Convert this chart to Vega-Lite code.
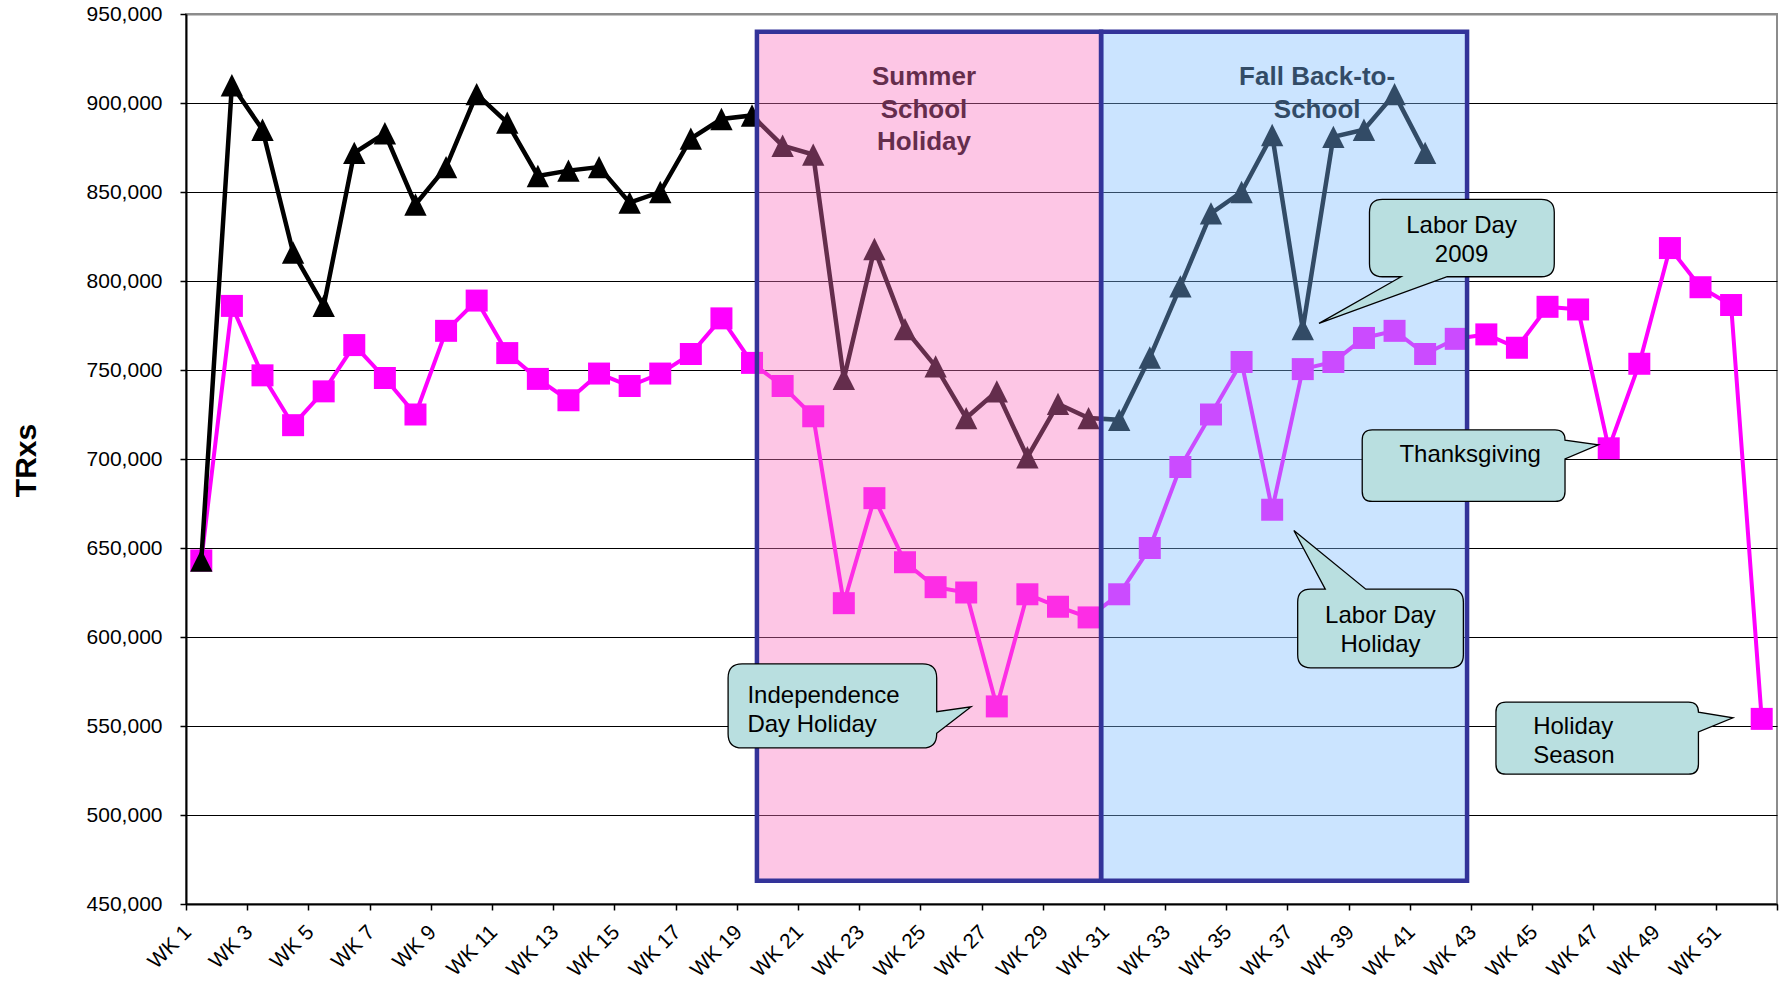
{
  "$schema": "https://vega.github.io/schema/vega-lite/v6.json",
  "width": 1591,
  "height": 890,
  "autosize": {"type": "none"},
  "padding": {"left": 186, "top": 14, "right": 6, "bottom": 81},
  "background": "white",
  "config": {"font": "Liberation Sans", "view": {"stroke": "#8c8c8c", "strokeWidth": 2}},
  "datasets": {
    "weekly": [
      {"week": 1, "series": "Series 1", "value": 643000},
      {"week": 2, "series": "Series 1", "value": 910000},
      {"week": 3, "series": "Series 1", "value": 885000},
      {"week": 4, "series": "Series 1", "value": 816000},
      {"week": 5, "series": "Series 1", "value": 786000},
      {"week": 6, "series": "Series 1", "value": 872000},
      {"week": 7, "series": "Series 1", "value": 883000},
      {"week": 8, "series": "Series 1", "value": 843000},
      {"week": 9, "series": "Series 1", "value": 864000},
      {"week": 10, "series": "Series 1", "value": 905000},
      {"week": 11, "series": "Series 1", "value": 889000},
      {"week": 12, "series": "Series 1", "value": 859000},
      {"week": 13, "series": "Series 1", "value": 862000},
      {"week": 14, "series": "Series 1", "value": 864000},
      {"week": 15, "series": "Series 1", "value": 844000},
      {"week": 16, "series": "Series 1", "value": 850000},
      {"week": 17, "series": "Series 1", "value": 880000},
      {"week": 18, "series": "Series 1", "value": 891000},
      {"week": 19, "series": "Series 1", "value": 893000},
      {"week": 20, "series": "Series 1", "value": 876000},
      {"week": 21, "series": "Series 1", "value": 871000},
      {"week": 22, "series": "Series 1", "value": 745000},
      {"week": 23, "series": "Series 1", "value": 818000},
      {"week": 24, "series": "Series 1", "value": 773000},
      {"week": 25, "series": "Series 1", "value": 752000},
      {"week": 26, "series": "Series 1", "value": 723000},
      {"week": 27, "series": "Series 1", "value": 738000},
      {"week": 28, "series": "Series 1", "value": 701000},
      {"week": 29, "series": "Series 1", "value": 731000},
      {"week": 30, "series": "Series 1", "value": 723000},
      {"week": 31, "series": "Series 1", "value": 722000},
      {"week": 32, "series": "Series 1", "value": 757000},
      {"week": 33, "series": "Series 1", "value": 797000},
      {"week": 34, "series": "Series 1", "value": 838000},
      {"week": 35, "series": "Series 1", "value": 850000},
      {"week": 36, "series": "Series 1", "value": 882000},
      {"week": 37, "series": "Series 1", "value": 773000},
      {"week": 38, "series": "Series 1", "value": 881000},
      {"week": 39, "series": "Series 1", "value": 885000},
      {"week": 40, "series": "Series 1", "value": 905000},
      {"week": 41, "series": "Series 1", "value": 872000},
      {"week": 1, "series": "Series 2", "value": 643000},
      {"week": 2, "series": "Series 2", "value": 786000},
      {"week": 3, "series": "Series 2", "value": 747000},
      {"week": 4, "series": "Series 2", "value": 719000},
      {"week": 5, "series": "Series 2", "value": 738000},
      {"week": 6, "series": "Series 2", "value": 764000},
      {"week": 7, "series": "Series 2", "value": 745500},
      {"week": 8, "series": "Series 2", "value": 725000},
      {"week": 9, "series": "Series 2", "value": 772000},
      {"week": 10, "series": "Series 2", "value": 789000},
      {"week": 11, "series": "Series 2", "value": 759500},
      {"week": 12, "series": "Series 2", "value": 745000},
      {"week": 13, "series": "Series 2", "value": 733000},
      {"week": 14, "series": "Series 2", "value": 748000},
      {"week": 15, "series": "Series 2", "value": 741000},
      {"week": 16, "series": "Series 2", "value": 748000},
      {"week": 17, "series": "Series 2", "value": 759000},
      {"week": 18, "series": "Series 2", "value": 779000},
      {"week": 19, "series": "Series 2", "value": 754000},
      {"week": 20, "series": "Series 2", "value": 741000},
      {"week": 21, "series": "Series 2", "value": 724000},
      {"week": 22, "series": "Series 2", "value": 619000},
      {"week": 23, "series": "Series 2", "value": 678000},
      {"week": 24, "series": "Series 2", "value": 642000},
      {"week": 25, "series": "Series 2", "value": 628000},
      {"week": 26, "series": "Series 2", "value": 625000},
      {"week": 27, "series": "Series 2", "value": 561000},
      {"week": 28, "series": "Series 2", "value": 624000},
      {"week": 29, "series": "Series 2", "value": 617000},
      {"week": 30, "series": "Series 2", "value": 611000},
      {"week": 31, "series": "Series 2", "value": 624000},
      {"week": 32, "series": "Series 2", "value": 650000},
      {"week": 33, "series": "Series 2", "value": 695500},
      {"week": 34, "series": "Series 2", "value": 725000},
      {"week": 35, "series": "Series 2", "value": 754500},
      {"week": 36, "series": "Series 2", "value": 671500},
      {"week": 37, "series": "Series 2", "value": 750500},
      {"week": 38, "series": "Series 2", "value": 754500},
      {"week": 39, "series": "Series 2", "value": 768000},
      {"week": 40, "series": "Series 2", "value": 772000},
      {"week": 41, "series": "Series 2", "value": 759000},
      {"week": 42, "series": "Series 2", "value": 767500},
      {"week": 43, "series": "Series 2", "value": 770000},
      {"week": 44, "series": "Series 2", "value": 762500},
      {"week": 45, "series": "Series 2", "value": 785500},
      {"week": 46, "series": "Series 2", "value": 784000},
      {"week": 47, "series": "Series 2", "value": 706000},
      {"week": 48, "series": "Series 2", "value": 753500},
      {"week": 49, "series": "Series 2", "value": 818500},
      {"week": 50, "series": "Series 2", "value": 796500},
      {"week": 51, "series": "Series 2", "value": 786500},
      {"week": 52, "series": "Series 2", "value": 554000}
    ],
    "periods": [
      {"period": "Summer School Holiday", "start": 19.16, "end": 30.41, "low": 463000, "high": 940000},
      {"period": "Fall Back-to-School", "start": 30.41, "end": 42.37, "low": 463000, "high": 940000}
    ],
    "periodLabels": [
      {"label": "Summer\nSchool\nHoliday", "week": 24.62, "value": 910100},
      {"label": "Fall Back-to-\nSchool", "week": 37.47, "value": 910100}
    ],
    "callouts": [
      {"note": "Independence Day Holiday", "week": 26.16, "value": 560800},
      {"note": "Labor Day 2009", "week": 37.53, "value": 776200},
      {"note": "Labor Day Holiday", "week": 36.71, "value": 659800},
      {"note": "Thanksgiving", "week": 46.66, "value": 708000},
      {"note": "Holiday Season", "week": 51.06, "value": 554600}
    ],
    "calloutText": [
      {"note": "Independence Day Holiday", "label": "Independence\nDay Holiday", "week": 18.85, "value": 562900},
      {"note": "Labor Day 2009", "label": "Labor Day\n2009", "week": 42.19, "value": 826800},
      {"note": "Labor Day Holiday", "label": "Labor Day\nHoliday", "week": 39.54, "value": 607800},
      {"note": "Thanksgiving", "label": "Thanksgiving", "week": 42.47, "value": 698500},
      {"note": "Holiday Season", "label": "Holiday\nSeason", "week": 44.53, "value": 545500}
    ]
  },
  "layer": [
    {
      "data": {"name": "weekly"},
      "transform": [{"filter": "datum.series == 'Series 2'"}],
      "mark": {"type": "line", "color": "#ff00ff", "strokeWidth": 4},
      "encoding": {
        "x": {
          "field": "week", "type": "quantitative",
          "scale": {"domain": [0.5, 52.5], "nice": false, "zero": false},
          "axis": {
            "values": [0.5,1.5,2.5,3.5,4.5,5.5,6.5,7.5,8.5,9.5,10.5,11.5,12.5,13.5,14.5,15.5,16.5,17.5,18.5,19.5,20.5,21.5,22.5,23.5,24.5,25.5,26.5,27.5,28.5,29.5,30.5,31.5,32.5,33.5,34.5,35.5,36.5,37.5,38.5,39.5,40.5,41.5,42.5,43.5,44.5,45.5,46.5,47.5,48.5,49.5,50.5,51.5,52.5],
            "labelExpr": "(datum.value - 0.5) % 2 == 0 && datum.value < 52 ? 'WK ' + (datum.value + 0.5) : ''",
            "labelAngle": -45, "labelAlign": "right", "labelBaseline": "top",
            "labelOffset": -6, "labelPadding": 11,
            "labelFontSize": 21, "labelColor": "black", "labelFont": "Liberation Sans",
            "labelOverlap": false, "labelFlush": false, "labelBound": false,
            "tickSize": 6, "tickColor": "black", "tickWidth": 1.5,
            "domainColor": "black", "domainWidth": 2,
            "grid": false, "title": null
          }
        },
        "y": {
          "field": "value", "type": "quantitative",
          "scale": {"domain": [450000, 950000], "nice": false, "zero": false},
          "axis": {
            "values": [450000,500000,550000,600000,650000,700000,750000,800000,850000,900000,950000],
            "format": ",d",
            "labelFontSize": 21, "labelColor": "black", "labelFont": "Liberation Sans", "labelPadding": 18,
            "tickSize": 6, "tickColor": "black", "tickWidth": 1.5,
            "domainColor": "black", "domainWidth": 2,
            "grid": true,
            "gridColor": {"condition": {"test": "datum.value >= 950000", "value": "#8c8c8c"}, "value": "black"},
            "gridWidth": {"condition": {"test": "datum.value >= 950000", "value": 2}, "value": 1},
            "title": "TRxs", "titleFontSize": 30, "titleFontWeight": "bold", "titleFont": "Liberation Sans", "titleColor": "black",
            "titleAngle": 270, "titleX": -160, "titleY": 446, "titleAlign": "center", "titleBaseline": "middle"
          }
        }
      }
    },
    {
      "data": {"name": "weekly"},
      "transform": [{"filter": "datum.series == 'Series 2'"}],
      "mark": {"type": "point", "shape": "square", "size": 484, "filled": true, "color": "#ff00ff", "opacity": 1},
      "encoding": {
        "x": {"field": "week", "type": "quantitative"},
        "y": {"field": "value", "type": "quantitative"}
      }
    },
    {
      "data": {"name": "weekly"},
      "transform": [{"filter": "datum.series == 'Series 1'"}],
      "mark": {"type": "line", "color": "black", "strokeWidth": 4.5},
      "encoding": {
        "x": {"field": "week", "type": "quantitative"},
        "y": {"field": "value", "type": "quantitative"}
      }
    },
    {
      "data": {"name": "weekly"},
      "transform": [{"filter": "datum.series == 'Series 1'"}],
      "mark": {"type": "point", "shape": "M0,-1L1,1L-1,1Z", "size": 500, "filled": true, "color": "black", "opacity": 1},
      "encoding": {
        "x": {"field": "week", "type": "quantitative"},
        "y": {"field": "value", "type": "quantitative"}
      }
    },
    {
      "data": {"name": "periodLabels"},
      "mark": {"type": "text", "font": "Liberation Sans", "fontSize": 26, "fontWeight": "bold", "color": "black", "align": "center", "baseline": "alphabetic", "lineBreak": "\n", "lineHeight": 32.5},
      "encoding": {
        "x": {"field": "week", "type": "quantitative"},
        "y": {"field": "value", "type": "quantitative"},
        "text": {"field": "label"}
      }
    },
    {
      "data": {"name": "periods"},
      "mark": {"type": "rect", "fillOpacity": 0.4, "stroke": "#333399", "strokeWidth": 4.5, "strokeOpacity": 1},
      "encoding": {
        "x": {"field": "start", "type": "quantitative"},
        "x2": {"field": "end"},
        "y": {"field": "low", "type": "quantitative"},
        "y2": {"field": "high"},
        "fill": {"field": "period", "type": "nominal", "scale": {"domain": ["Summer School Holiday", "Fall Back-to-School"], "range": ["#fa70bf", "#7ebcff"]}, "legend": null}
      }
    },
    {
      "data": {"name": "callouts"},
      "transform": [{"filter": "datum.note == 'Independence Day Holiday'"}],
      "mark": {"type": "point", "shape": "M-2.29,-0.429L-0.484,-0.429Q-0.344,-0.429,-0.344,-0.289L-0.344,0.049L0,0L-0.344,0.265L-0.344,0.271Q-0.344,0.411,-0.484,0.411L-2.29,0.411Q-2.43,0.411,-2.43,0.271L-2.43,-0.289Q-2.43,-0.429,-2.29,-0.429Z", "size": 40000, "filled": true, "fill": "#b9dfe0", "stroke": "black", "strokeWidth": 1.3, "opacity": 1, "fillOpacity": 1},
      "encoding": {
        "x": {"field": "week", "type": "quantitative"},
        "y": {"field": "value", "type": "quantitative"}
      }
    },
    {
      "data": {"name": "callouts"},
      "transform": [{"filter": "datum.note == 'Labor Day 2009'"}],
      "mark": {"type": "point", "shape": "M0.635,-1.24L2.223,-1.24Q2.353,-1.24,2.353,-1.11L2.353,-0.596Q2.353,-0.466,2.223,-0.466L1.282,-0.466L0,0L0.822,-0.466L0.635,-0.466Q0.505,-0.466,0.505,-0.596L0.505,-1.11Q0.505,-1.24,0.635,-1.24Z", "size": 40000, "filled": true, "fill": "#b9dfe0", "stroke": "black", "strokeWidth": 1.3, "opacity": 1, "fillOpacity": 1},
      "encoding": {
        "x": {"field": "week", "type": "quantitative"},
        "y": {"field": "value", "type": "quantitative"}
      }
    },
    {
      "data": {"name": "callouts"},
      "transform": [{"filter": "datum.note == 'Labor Day Holiday'"}],
      "mark": {"type": "point", "shape": "M0.168,0.586L0.314,0.586L0,0L0.719,0.586L1.565,0.586Q1.695,0.586,1.695,0.716L1.695,1.243Q1.695,1.373,1.565,1.373L0.168,1.373Q0.038,1.373,0.038,1.243L0.038,0.716Q0.038,0.586,0.168,0.586Z", "size": 40000, "filled": true, "fill": "#b9dfe0", "stroke": "black", "strokeWidth": 1.3, "opacity": 1, "fillOpacity": 1},
      "encoding": {
        "x": {"field": "week", "type": "quantitative"},
        "y": {"field": "value", "type": "quantitative"}
      }
    },
    {
      "data": {"name": "callouts"},
      "transform": [{"filter": "datum.note == 'Thanksgiving'"}],
      "mark": {"type": "point", "shape": "M-2.261,-0.149L-0.433,-0.149Q-0.333,-0.149,-0.333,-0.049L-0.333,-0.045L0,0L-0.333,0.142L-0.333,0.467Q-0.333,0.567,-0.433,0.567L-2.261,0.567Q-2.361,0.567,-2.361,0.467L-2.361,-0.049Q-2.361,-0.149,-2.261,-0.149Z", "size": 40000, "filled": true, "fill": "#b9dfe0", "stroke": "black", "strokeWidth": 1.3, "opacity": 1, "fillOpacity": 1},
      "encoding": {
        "x": {"field": "week", "type": "quantitative"},
        "y": {"field": "value", "type": "quantitative"}
      }
    },
    {
      "data": {"name": "callouts"},
      "transform": [{"filter": "datum.note == 'Holiday Season'"}],
      "mark": {"type": "point", "shape": "M-2.27,-0.157L-0.445,-0.157Q-0.345,-0.157,-0.345,-0.057L0,0L-0.345,0.141L-0.345,0.464Q-0.345,0.564,-0.445,0.564L-2.27,0.564Q-2.37,0.564,-2.37,0.464L-2.37,-0.057Q-2.37,-0.157,-2.27,-0.157Z", "size": 40000, "filled": true, "fill": "#b9dfe0", "stroke": "black", "strokeWidth": 1.3, "opacity": 1, "fillOpacity": 1},
      "encoding": {
        "x": {"field": "week", "type": "quantitative"},
        "y": {"field": "value", "type": "quantitative"}
      }
    },
    {
      "data": {"name": "calloutText"},
      "transform": [{"filter": "datum.note == 'Independence Day Holiday' || datum.note == 'Holiday Season'"}],
      "mark": {"type": "text", "font": "Liberation Sans", "fontSize": 24, "color": "black", "align": "left", "baseline": "alphabetic", "lineBreak": "\n", "lineHeight": 28.5},
      "encoding": {
        "x": {"field": "week", "type": "quantitative"},
        "y": {"field": "value", "type": "quantitative"},
        "text": {"field": "label"}
      }
    },
    {
      "data": {"name": "calloutText"},
      "transform": [{"filter": "datum.note != 'Independence Day Holiday' && datum.note != 'Holiday Season'"}],
      "mark": {"type": "text", "font": "Liberation Sans", "fontSize": 24, "color": "black", "align": "center", "baseline": "alphabetic", "lineBreak": "\n", "lineHeight": 28.5},
      "encoding": {
        "x": {"field": "week", "type": "quantitative"},
        "y": {"field": "value", "type": "quantitative"},
        "text": {"field": "label"}
      }
    }
  ]
}
